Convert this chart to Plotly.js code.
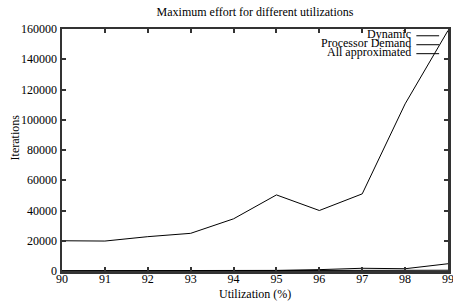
<!DOCTYPE html>
<html>
<head>
<meta charset="utf-8">
<script src="https://cdn.plot.ly/plotly-3.0.1.min.js"></script>
<style>html,body{margin:0;padding:0;background:#fff;}#chart{width:453px;height:302px;}</style>
</head>
<body>
<div id="chart"></div>
<script>
const utilization = [90, 91, 92, 93, 94, 95, 96, 97, 98, 99];
const dynamicIter = [100, 100, 100, 100, 100, 150, 200, 300, 300, 500];
const processorDemand = [200, 200, 200, 200, 300, 400, 900, 1800, 1500, 4800];
const allApproximated = [20000, 19800, 22700, 24900, 34500, 50300, 40000, 51000, 110500, 159000];
const seriesNames = ["Dynamic", "Processor Demand", "All approximated"];
const yTicks = [0, 20000, 40000, 60000, 80000, 100000, 120000, 140000, 160000];

const font = {family: "Liberation Serif", size: 12, color: "#000"};
const lineStyle = {color: "#000", width: 1};

const data = [dynamicIter, processorDemand, allApproximated].map((ys, i) => ({
  x: utilization, y: ys, name: seriesNames[i], type: "scatter", mode: "lines",
  line: lineStyle, showlegend: false
}));

// manual compact legend (gnuplot style)
const legendY = [0.978, 0.941, 0.904];
const annotations = seriesNames.map((n, i) => ({
  text: n, xref: "paper", yref: "paper", x: 0.91, y: legendY[i],
  xanchor: "right", yanchor: "middle", showarrow: false, font: font
}));
annotations.push({
  text: "Iterations", xref: "paper", yref: "paper", x: -0.123, y: 0.55,
  xanchor: "center", yanchor: "middle", textangle: -90, showarrow: false, font: font
});
annotations.push({
  text: "Utilization (%)", xref: "paper", yref: "paper", x: 0.5, y: -0.095,
  xanchor: "center", yanchor: "middle", showarrow: false, font: font
});
const shapes = seriesNames.map((n, i) => ({
  type: "line", xref: "paper", yref: "paper", x0: 0.918, x1: 0.977,
  y0: legendY[i] - 0.006, y1: legendY[i] - 0.006, line: {color: "#000", width: 1}
}));

const axisCommon = {
  showgrid: false, zeroline: false, showline: true, linecolor: "#333", linewidth: 2.5,
  mirror: "allticks", ticks: "inside", ticklen: 4, tickwidth: 2, tickcolor: "#333",
  tickfont: font, ticklabeloverflow: "allow"
};

const layout = {
  width: 453, height: 302,
  margin: {l: 62, r: 5, t: 29, b: 31},
  paper_bgcolor: "#fff", plot_bgcolor: "#fff",
  font: font,
  title: {text: "Maximum effort for different utilizations", font: font, x: 0.563, xanchor: "center", y: 0.962, yanchor: "middle"},
  xaxis: Object.assign({}, axisCommon, {
    range: [90, 99], tickvals: utilization, ticktext: utilization.map(String),
    ticklabelstandoff: -5
  }),
  yaxis: Object.assign({}, axisCommon, {
    range: [0, 160000], tickvals: yTicks, ticktext: yTicks.map(String)
  }),
  annotations: annotations,
  shapes: shapes,
  showlegend: false
};

Plotly.newPlot("chart", data, layout, {displayModeBar: false, staticPlot: true});
</script>
</body>
</html>
